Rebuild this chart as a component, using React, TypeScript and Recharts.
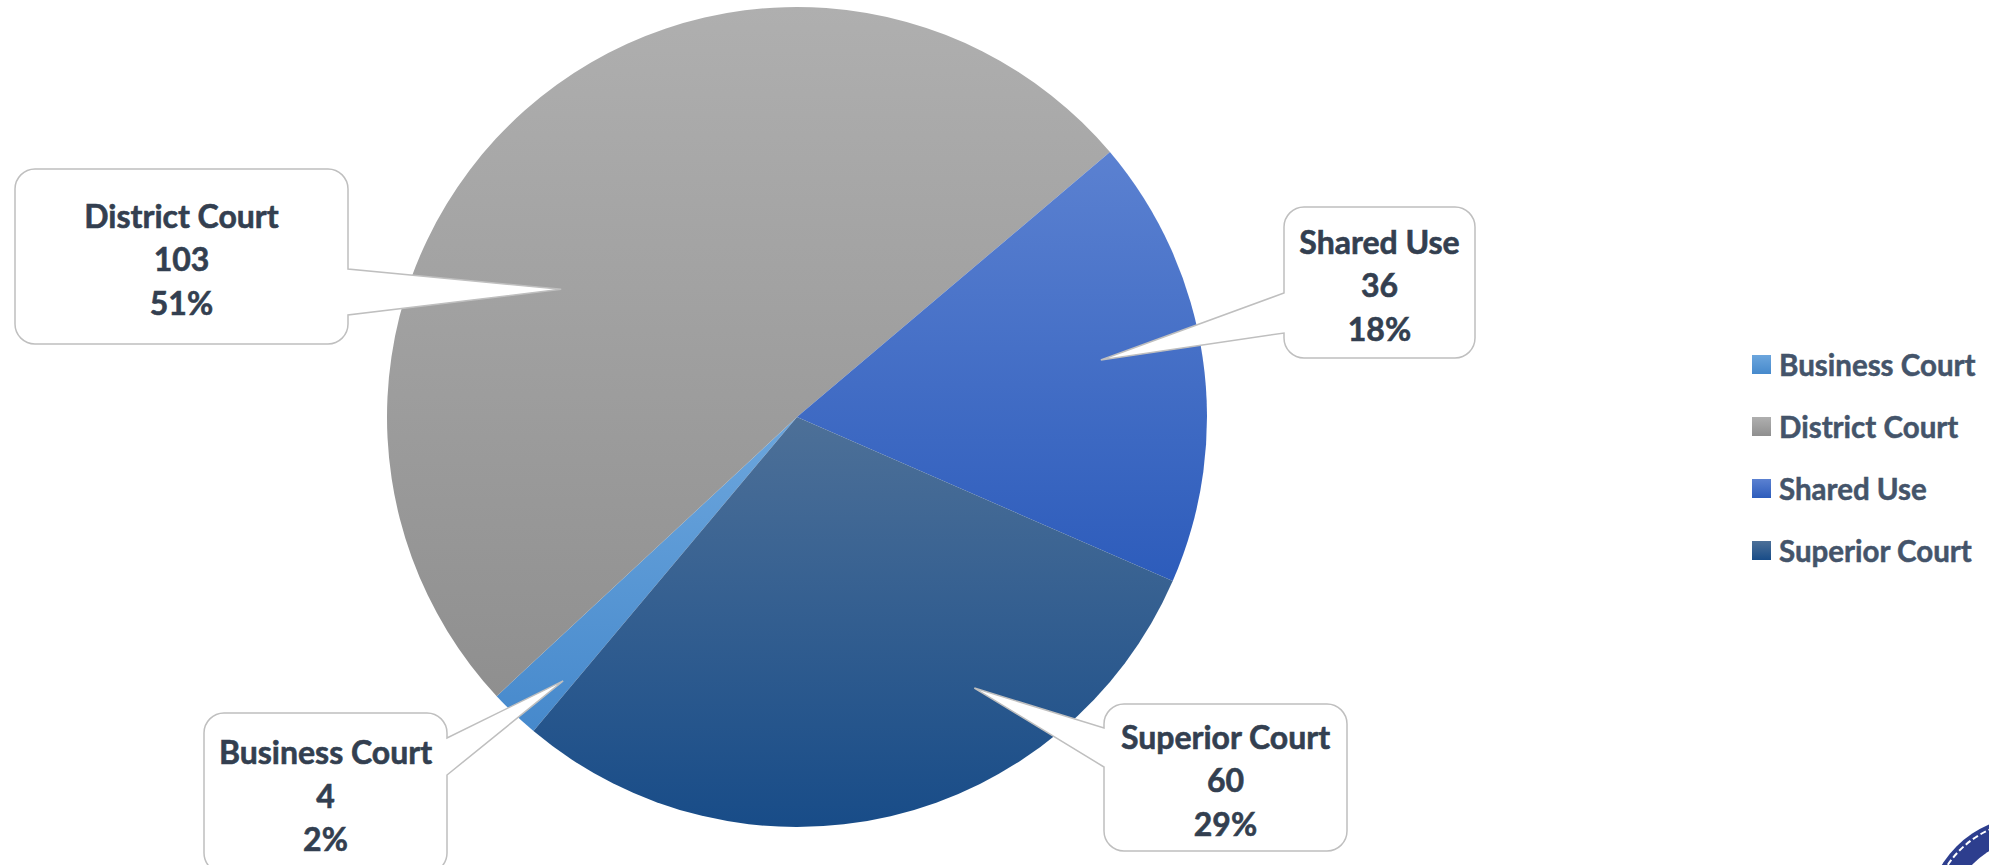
import React from "react";
import { PieChart, Pie, Cell, Legend } from "recharts";

const categories = ["Business Court", "District Court", "Shared Use", "Superior Court"];
const counts = [4, 103, 36, 60];
const percentLabels = ["2%", "51%", "18%", "29%"];

const GRADIENTS = [
  { id: "gBusiness", top: "#6CA6DD", bottom: "#4689CC" },
  { id: "gDistrict", top: "#AFAFAF", bottom: "#8F8F8F" },
  { id: "gShared", top: "#5B81D1", bottom: "#2D5CBB" },
  { id: "gSuperior", top: "#4D7098", bottom: "#184C88" },
];

// callout placement, relative to the pie centre (px) and slice mid angle
const CALLOUTS = [
  { tipDeg: 2, tipR: 0.86, x: -593, y: 296, w: 243, h: 160, side: "right", a: 25, b: 62 },
  { tipDeg: 20, tipR: 0.654, x: -782, y: -248, w: 333, h: 175, side: "right", a: 100, b: 146 },
  { tipDeg: 2.3, tipR: 0.754, x: 487, y: -210, w: 191, h: 151, side: "left", a: 86, b: 126 },
  { tipDeg: 20, tipR: 0.79, x: 307, y: 287, w: 243, h: 147, side: "left", a: 24, b: 63 },
];

const data = categories.map((name, i) => ({ name, value: counts[i] }));

const FONT = "Lato, 'Open Sans', sans-serif";
const RAD = Math.PI / 180;

const calloutPath = (x: number, y: number, w: number, h: number, side: string, a: number, b: number, tx: number, ty: number) => {
  const r = 20;
  if (side === "right") {
    return `M${x + r},${y} H${x + w - r} A${r},${r} 0 0 1 ${x + w},${y + r} V${y + a} L${tx},${ty} L${x + w},${y + b} V${y + h - r} A${r},${r} 0 0 1 ${x + w - r},${y + h} H${x + r} A${r},${r} 0 0 1 ${x},${y + h - r} V${y + r} A${r},${r} 0 0 1 ${x + r},${y} Z`;
  }
  return `M${x + r},${y} H${x + w - r} A${r},${r} 0 0 1 ${x + w},${y + r} V${y + h - r} A${r},${r} 0 0 1 ${x + w - r},${y + h} H${x + r} A${r},${r} 0 0 1 ${x},${y + h - r} V${y + b} L${tx},${ty} L${x},${y + a} V${y + r} A${r},${r} 0 0 1 ${x + r},${y} Z`;
};

const renderCallout = (props: any) => {
  const { cx, cy, midAngle, outerRadius, index, name, value } = props;
  const c = CALLOUTS[index];
  const ang = (midAngle + c.tipDeg) * RAD;
  const tx = cx + c.tipR * outerRadius * Math.cos(-ang);
  const ty = cy + c.tipR * outerRadius * Math.sin(-ang);
  const bx = cx + c.x;
  const by = cy + c.y;
  const mx = bx + c.w / 2;
  const my = by + c.h / 2 + 2;
  const lines = [name, String(value), percentLabels[index]];
  return (
    <g key={`callout-${index}`}>
      <path
        d={calloutPath(bx, by, c.w, c.h, c.side, c.a, c.b, tx, ty)}
        fill="#FFFFFF"
        stroke="#BFBFBF"
        strokeWidth={1.5}
      />
      {lines.map((t, k) => (
        <text
          key={k}
          x={mx}
          y={my + (k - 1) * 43.5}
          textAnchor="middle"
          dominantBaseline="central"
          fontFamily={FONT}
          fontWeight={700}
          fontSize={32}
          fill="#333F50"
          stroke="#333F50"
          strokeWidth={0.6}
        >
          {t}
        </text>
      ))}
    </g>
  );
};

const renderLegend = (props: any) => {
  const { payload } = props;
  return (
    <div style={{ fontFamily: FONT }}>
      {(payload || []).map((entry: any, i: number) => (
        <div key={`leg-${i}`} style={{ height: 62, display: "flex", alignItems: "center" }}>
          <svg width={19} height={19} style={{ marginRight: 8, flexShrink: 0 }}>
            <rect width={19} height={19} fill={entry.color} />
          </svg>
          <span
            style={{
              fontSize: 29.5,
              fontWeight: 700,
              color: "#44546A",
              whiteSpace: "nowrap",
              WebkitTextStroke: "0.5px #44546A",
            }}
          >
            {entry.value}
          </span>
        </div>
      ))}
    </div>
  );
};

export default function App() {
  return (
    <div style={{ position: "absolute", left: 0, top: 0, width: 1989, height: 865, background: "#FFFFFF", overflow: "hidden" }}>
      <PieChart width={1989} height={865} margin={{ top: 0, right: 0, bottom: 0, left: 0 }}>
        <defs>
          {GRADIENTS.map((g) => (
            <linearGradient key={g.id} id={g.id} x1="0" y1="0" x2="0" y2="1">
              <stop offset="0%" stopColor={g.top} />
              <stop offset="100%" stopColor={g.bottom} />
            </linearGradient>
          ))}
        </defs>
        <Pie
          data={data}
          dataKey="value"
          nameKey="name"
          cx={797}
          cy={417}
          outerRadius={410}
          startAngle={-130}
          endAngle={-490}
          stroke="none"
          labelLine={false}
          label={renderCallout}
          isAnimationActive={false}
        >
          {data.map((d, i) => (
            <Cell key={d.name} fill={`url(#${GRADIENTS[i].id})`} />
          ))}
        </Pie>
        <Legend
          layout="vertical"
          align="right"
          verticalAlign="top"
          content={renderLegend}
          wrapperStyle={{ left: 1752, top: 333, right: "auto", width: 237 }}
        />
      </PieChart>
      <svg width={1989} height={865} style={{ position: "absolute", left: 0, top: 0, pointerEvents: "none" }}>
        <circle cx={2030} cy={920} r={104} fill="#2D3E8E" />
        <circle cx={2030} cy={920} r={99} fill="none" stroke="#FFFFFF" strokeWidth={2} strokeDasharray="6 3" />
        <circle cx={2030} cy={920} r={80} fill="#FFFFFF" />
      </svg>
    </div>
  );
}
